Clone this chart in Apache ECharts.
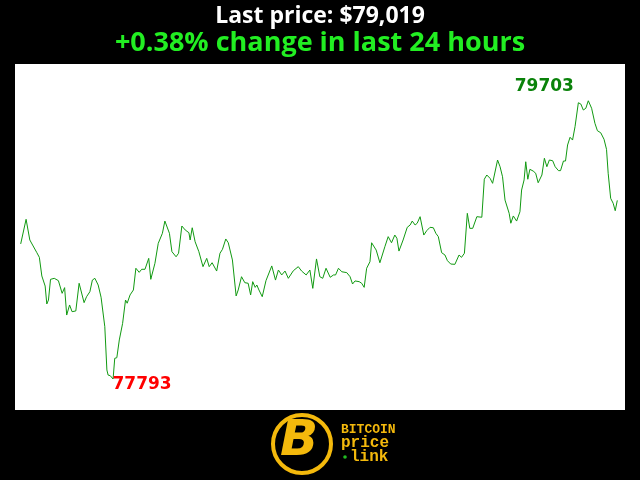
<!DOCTYPE html>
<html>
<head>
<meta charset="utf-8">
<script src="https://cdn.jsdelivr.net/npm/echarts@6/dist/echarts.min.js"></script>
<style>html,body{margin:0;padding:0;background:#000}#c{width:640px;height:480px}</style>
</head>
<body>
<div id="c"></div>
<script>
// minutes since start of the 24h window
const minutes = [0,4,13,22,30,39,45,51,59,63,67,72,81,91,100,106,111,118,124,133,141,153,159,167,173,179,187,194,198,203,208,211,216,219,223,227,232,238,246,253,257,264,268,272,278,286,292,300,309,314,318,324,332,342,348,359,365,375,381,389,397,406,409,414,421,430,440,449,455,462,473,481,487,495,501,511,520,525,533,541,549,555,560,566,570,575,583,592,606,615,622,630,638,646,658,670,678,689,698,705,714,722,729,737,747,755,760,767,775,787,795,801,807,817,823,829,835,843,847,858,867,879,887,895,903,908,913,917,923,933,940,945,952,957,964,973,980,988,996,1002,1008,1016,1024,1030,1038,1048,1052,1058,1064,1071,1078,1084,1091,1101,1113,1119,1125,1133,1139,1143,1151,1157,1163,1169,1173,1179,1183,1189,1192,1197,1205,1209,1215,1219,1224,1229,1237,1243,1249,1258,1264,1270,1276,1284,1290,1298,1303,1310,1315,1320,1326,1332,1338,1346,1352,1358,1364,1370,1378,1386,1392,1400,1408,1414,1418,1424,1430,1435,1440];
// BTC price (USD)
const prices = [78720,78719,78889,78747,78706,78660,78628,78500,78431,78308,78335,78477,78484,78468,78381,78420,78232,78301,78255,78260,78450,78317,78358,78392,78472,78484,78438,78354,78363,78152,77855,77820,77816,77809,77793,77935,77939,78061,78175,78335,78313,78370,78358,78404,78553,78525,78546,78546,78621,78477,78472,78587,78724,78793,78877,78793,78667,78632,78656,78843,78816,78797,78747,78831,78735,78667,78564,78621,78564,78591,78534,78656,78683,78754,78728,78610,78363,78404,78495,78454,78450,78370,78461,78422,78438,78404,78358,78468,78569,78472,78541,78507,78534,78484,78536,78564,78534,78507,78541,78415,78617,78495,78484,78553,78491,78507,78507,78553,78529,78523,78495,78445,78466,78461,78450,78422,78553,78598,78728,78678,78591,78701,78770,78728,78781,78759,78671,78671,78747,78834,78850,78877,78850,78862,78907,78781,78811,78834,78831,78793,78770,78660,78644,78605,78582,78580,78591,78644,78628,78656,78930,78827,78827,78907,78903,79164,79193,79170,79136,79136,79296,79250,79181,79021,79015,78930,78862,78912,78923,78877,78941,79090,79159,79284,79164,79232,79220,79205,79140,79193,79308,79250,79296,79291,79250,79223,79223,79289,79289,79399,79452,79433,79525,79689,79680,79639,79651,79703,79651,79548,79497,79483,79438,79369,79205,79033,78999,78948,79019];
const titleText = 'Last price: $79,019';
const subtitleText = '+0.38% change in last 24 hours';

const chart = echarts.init(document.getElementById('c'));
const seriesData = minutes.map((m, i) => [m, prices[i]]);
chart.setOption({
  backgroundColor: '#000000',
  animation: false,
  title: [
    { text: titleText, left: 'center', top: 0,
      textStyle: { color: '#ffffff', fontFamily: 'Open Sans', fontWeight: 'bold', fontSize: 23 } },
    { text: subtitleText, left: 'center', top: 25,
      textStyle: { color: '#22ee22', fontFamily: 'Open Sans', fontWeight: 'bold', fontSize: 27 } }
  ],
  grid: { left: 20.7, right: 22.7, top: 100.7, bottom: 101 },
  xAxis: { type: 'value', min: 0, max: 1440, show: false },
  yAxis: { type: 'value', min: 'dataMin', max: 'dataMax', show: false, splitLine: { show: false } },
  graphic: [
    { type: 'rect', z: -10, shape: { x: 15, y: 64, width: 610, height: 346 }, style: { fill: '#ffffff' } },
    { type: 'circle', shape: { cx: 302, cy: 444, r: 29 }, style: { fill: '#000', stroke: '#f4b90c', lineWidth: 4 } },
    { type: 'text', left: 280, top: 417, style: { text: 'B', fill: '#f4b90c', font: 'italic bold 50px "DejaVu Sans"' } },
    { type: 'text', left: 341, top: 423, style: { text: 'BITCOIN', fill: '#f4b90c', font: 'bold 13px "Liberation Mono"' } },
    { type: 'text', left: 341, top: 435, style: { text: 'price', fill: '#f4b90c', font: 'bold 16px "Liberation Mono"' } },
    { type: 'circle', shape: { cx: 345, cy: 457, r: 1.8 }, style: { fill: '#22bb22' } },
    { type: 'text', left: 350, top: 449, style: { text: 'link', fill: '#f4b90c', font: 'bold 16px "Liberation Mono"' } }
  ],
  series: [{
    type: 'line',
    data: seriesData,
    showSymbol: false,
    lineStyle: { color: '#119911', width: 1 },
    markPoint: {
      symbol: 'circle', symbolSize: 0,
      data: [
        { type: 'max', label: { show: true, formatter: '{c}', color: '#0a820a', fontFamily: 'DejaVu Sans', fontWeight: 'bold', fontSize: 17, offset: [-44, -14] } },
        { type: 'min', label: { show: true, formatter: '{c}', color: '#ff0000', fontFamily: 'DejaVu Sans', fontWeight: 'bold', fontSize: 17, offset: [29, 6] } }
      ]
    }
  }]
});
</script>
</body>
</html>
